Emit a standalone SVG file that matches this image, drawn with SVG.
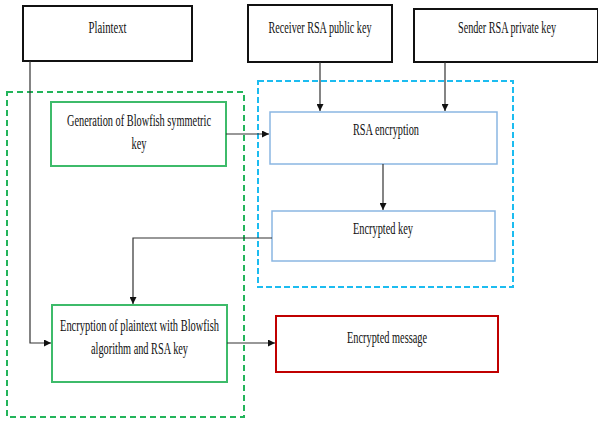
<svg xmlns="http://www.w3.org/2000/svg" width="598" height="421" viewBox="0 0 598 421">
<style>
  .txt{font-family:"Liberation Serif","Times New Roman",serif;font-size:16px;fill:#111;text-anchor:middle}
  .blk{fill:#fff;stroke:#111;stroke-width:2}
  .grn{fill:#fff;stroke:#3dbb6a;stroke-width:2}
  .blu{fill:#fff;stroke:#8ab6e2;stroke-width:1.5}
  .red{fill:#fff;stroke:#c00000;stroke-width:2}
  .gdash{fill:none;stroke:#22b45a;stroke-width:2;stroke-dasharray:6 4}
  .bdash{fill:none;stroke:#1cbcf0;stroke-width:2;stroke-dasharray:6 3}
  .con{fill:none;stroke:#333;stroke-width:1.2}
</style>
<defs>
  <marker id="arr" viewBox="0 0 10 10" refX="10" refY="5" markerWidth="7" markerHeight="7" orient="auto" markerUnits="userSpaceOnUse">
    <path d="M0,0 L10,5 L0,10 z" fill="#111"/>
  </marker>
</defs>
<rect width="598" height="421" fill="#fff"/>
<g id="groups">
  <rect class="gdash" x="7" y="92" width="237" height="325"/>
  <rect class="bdash" x="258" y="81" width="255" height="206"/>
</g>
<g id="plaintext">
  <rect class="blk" x="23" y="6" width="169" height="55"/>
  <text class="txt" x="107.5" y="33" textLength="38" lengthAdjust="spacingAndGlyphs">Plaintext</text>
</g>
<g id="receiver">
  <rect class="blk" x="248" y="5" width="144" height="57"/>
  <text class="txt" x="320" y="33" textLength="103" lengthAdjust="spacingAndGlyphs">Receiver RSA public key</text>
</g>
<g id="sender">
  <rect class="blk" x="414" y="9" width="184" height="53"/>
  <text class="txt" x="507" y="33" textLength="98" lengthAdjust="spacingAndGlyphs">Sender RSA private key</text>
</g>
<g id="generation">
  <rect class="grn" x="51" y="102" width="175" height="64"/>
  <text class="txt" x="139" y="126" textLength="144" lengthAdjust="spacingAndGlyphs">Generation of Blowfish symmetric</text>
  <text class="txt" x="139" y="149" textLength="15" lengthAdjust="spacingAndGlyphs">key</text>
</g>
<g id="rsa">
  <rect class="blu" x="270" y="112" width="227" height="52"/>
  <text class="txt" x="386" y="135" textLength="66" lengthAdjust="spacingAndGlyphs">RSA encryption</text>
</g>
<g id="enckey">
  <rect class="blu" x="272" y="211" width="223" height="50"/>
  <text class="txt" x="383" y="234" textLength="60" lengthAdjust="spacingAndGlyphs">Encrypted key</text>
</g>
<g id="encryption">
  <rect class="grn" x="52" y="305" width="175" height="77"/>
  <text class="txt" x="139.5" y="331" textLength="159" lengthAdjust="spacingAndGlyphs">Encryption of plaintext with Blowfish</text>
  <text class="txt" x="139.5" y="354" textLength="97" lengthAdjust="spacingAndGlyphs">algorithm and RSA key</text>
</g>
<g id="message">
  <rect class="red" x="276" y="316" width="222" height="56"/>
  <text class="txt" x="387" y="343" textLength="80" lengthAdjust="spacingAndGlyphs">Encrypted message</text>
</g>
<g id="connectors">
  <path class="con" d="M320,62 V111" marker-end="url(#arr)"/>
  <path class="con" d="M445,62 V111" marker-end="url(#arr)"/>
  <path class="con" d="M226,134 H269" marker-end="url(#arr)"/>
  <path class="con" d="M383,164 V210" marker-end="url(#arr)"/>
  <path class="con" d="M272,238 H133 V304" marker-end="url(#arr)"/>
  <path class="con" d="M30,61 V343 H51" marker-end="url(#arr)"/>
  <path class="con" d="M227,343 H275" marker-end="url(#arr)"/>
</g>
</svg>
